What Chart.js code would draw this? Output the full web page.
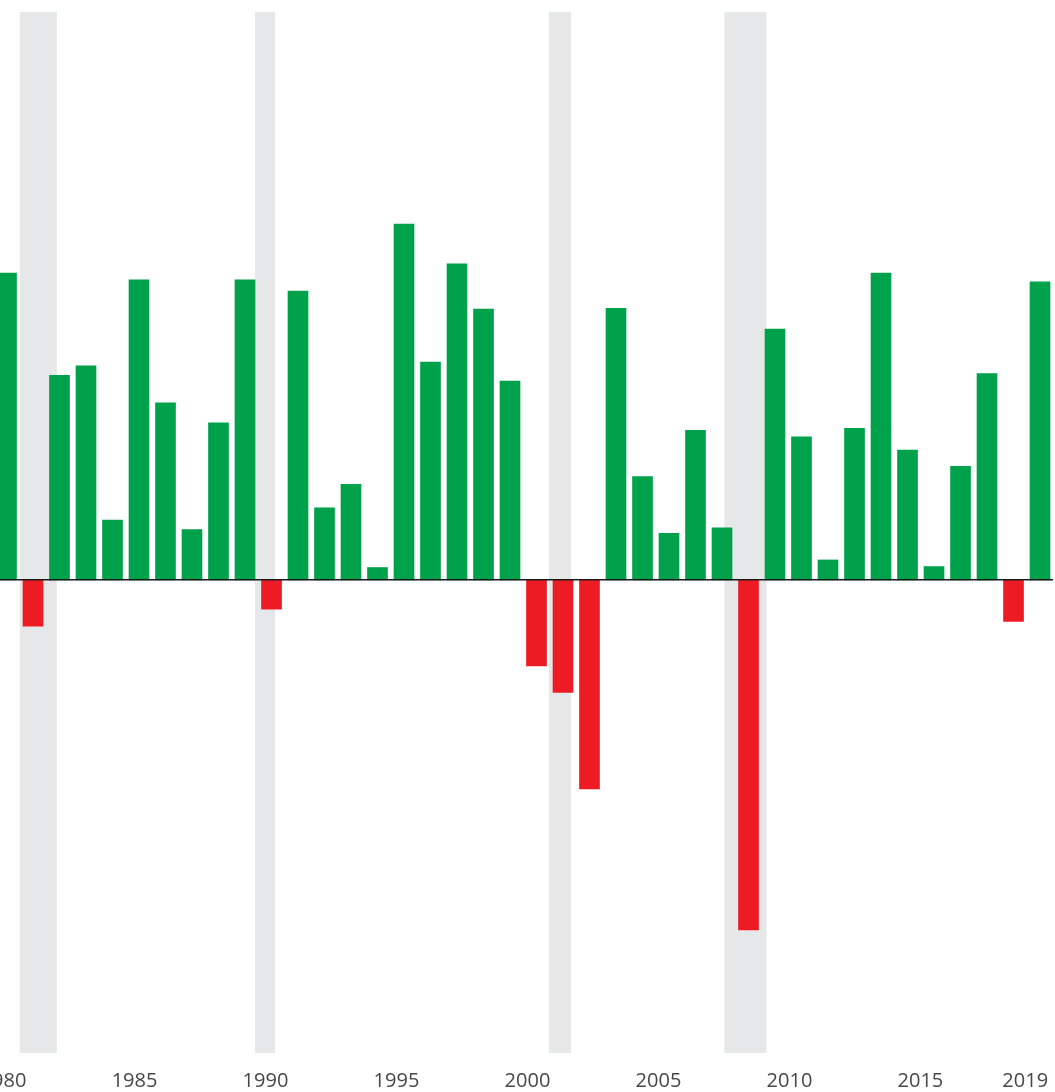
<!DOCTYPE html>
<html>
<head>
<meta charset="utf-8">
<script src="https://cdn.jsdelivr.net/npm/chart.js@4"></script>
<style>
  html, body { margin: 0; padding: 0; background: #fff; }
  #wrap { width: 1055px; height: 1092px; }
</style>
</head>
<body>
<div id="wrap"><canvas id="returnsChart"></canvas></div>
<script>
// annual total returns (%)
const years = [1980, 1981, 1982, 1983, 1984, 1985, 1986, 1987, 1988, 1989,
               1990, 1991, 1992, 1993, 1994, 1995, 1996, 1997, 1998, 1999,
               2000, 2001, 2002, 2003, 2004, 2005, 2006, 2007, 2008, 2009,
               2010, 2011, 2012, 2013, 2014, 2015, 2016, 2017, 2018, 2019];
const returns = [32.4, -4.9, 21.6, 22.6, 6.3, 31.7, 18.7, 5.3, 16.6, 31.7,
                 -3.1, 30.5, 7.6, 10.1, 1.3, 37.6, 23.0, 33.4, 28.6, 21.0,
                 -9.1, -11.9, -22.1, 28.7, 10.9, 4.9, 15.8, 5.5, -37.0, 26.5,
                 15.1, 2.1, 16.0, 32.4, 13.7, 1.4, 12.0, 21.8, -4.4, 31.5];
const tickYears = [1980, 1985, 1990, 1995, 2000, 2005, 2010, 2015, 2019];

// recession bands (in bar-year units)
const recessionStart = [1980.5, 1989.38, 2000.47, 2007.09];
const recessionEnd = [1981.9, 1990.13, 2001.3, 2008.68];

const GREEN = '#00a14b';
const RED = '#ed1c24';

const extras = {
    id: 'extras',
    beforeDatasetsDraw(chart) {
        const { ctx, chartArea, scales } = chart;
        ctx.save();
        ctx.fillStyle = '#e6e7e8';
        for (let i = 0; i < recessionStart.length; i++) {
            const x0 = scales.x.getPixelForValue(recessionStart[i]);
            const x1 = scales.x.getPixelForValue(recessionEnd[i]);
            ctx.fillRect(x0, chartArea.top, x1 - x0, chartArea.bottom - chartArea.top);
        }
        ctx.restore();
    },
    afterDatasetsDraw(chart) {
        const { ctx, chartArea, scales } = chart;
        const y0 = scales.y.getPixelForValue(0);
        ctx.save();
        ctx.strokeStyle = '#1a1a1a';
        ctx.lineWidth = 1.5;
        ctx.beginPath();
        ctx.moveTo(chartArea.left, y0);
        ctx.lineTo(chartArea.right, y0);
        ctx.stroke();

        // year labels
        ctx.font = '20px "Open Sans"';
        ctx.fillStyle = '#474747';
        ctx.textAlign = 'center';
        ctx.textBaseline = 'alphabetic';
        tickYears.forEach(function(yr) {
            const label = String(yr);
            const w = ctx.measureText(label).width;
            let x = scales.xl.getPixelForValue(yr);
            if (x + w / 2 > chartArea.right) x = chartArea.right - w / 2;
            ctx.fillText(label, x, chartArea.bottom + 34);
        });
        ctx.restore();
    }
};

const ctx = document.getElementById('returnsChart').getContext('2d');
const chart = new Chart(ctx, {
    type: 'bar',
    data: {
        datasets: [{
            data: years.map((yr, i) => ({ x: yr, y: returns[i] })),
            backgroundColor: returns.map(v => v >= 0 ? GREEN : RED),
            barThickness: 20,
            borderWidth: 0
        }]
    },
    options: {
        responsive: true,
        maintainAspectRatio: false,
        animation: false,
        layout: { padding: { top: 12, bottom: 39, left: 0, right: 2 } },
        plugins: { legend: { display: false }, tooltip: { enabled: false } },
        scales: {
            x: { type: 'linear', display: false, offset: false, min: 1979.755, max: 2019.49 },
            xl: { type: 'linear', axis: 'x', display: false, offset: false, min: 1979.866, max: 2020.06 },
            y: { display: false, min: -50, max: 60 }
        }
    },
    plugins: [extras]
});
</script>
</body>
</html>
